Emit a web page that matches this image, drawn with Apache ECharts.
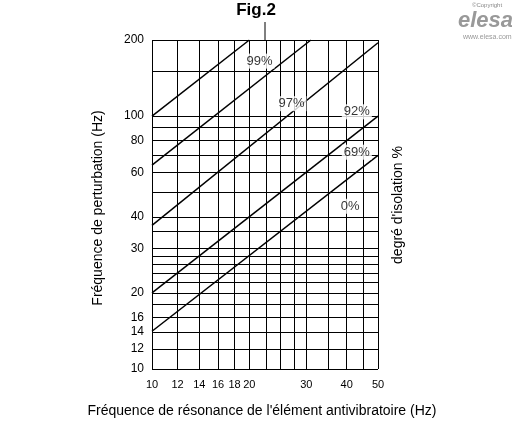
<!DOCTYPE html>
<html><head><meta charset="utf-8">
<script src="https://cdn.jsdelivr.net/npm/echarts@6/dist/echarts.min.js"></script>
<style>html,body{margin:0;background:#fff}#c{width:512px;height:430px}</style>
</head><body><div id="c"></div>
<script>
// grille et étiquettes
const xGrid = [10, 12, 14, 16, 18, 20, 22.5, 25, 27.5, 30, 35, 40, 45, 50];
const xLabels = [10, 12, 14, 16, 18, 20, 30, 40, 50];
const yGrid = [10, 12, 14, 16, 18, 20, 22, 24, 26, 28, 30, 35, 40, 50, 60, 70, 80, 90, 100, 150, 200];
const yLabels = [10, 12, 14, 16, 20, 30, 40, 60, 80, 100, 200];
// courbes d'isolation : [x, y] début et fin
const iso99 = [[10, 100], [20, 200]];
const iso97 = [[10, 64], [31, 200]];
const iso92 = [[10, 37], [50, 195]];
const iso69 = [[10, 20], [50, 100]];
const iso0 = [[10, 14.1], [50, 70]];
const isoLabels = [
  {name: '99%', value: [21.5, 165]},
  {name: '97%', value: [27, 112]},
  {name: '92%', value: [43, 104]},
  {name: '69%', value: [43, 72]},
  {name: '0%', value: [41, 44]}
];

let chart = echarts.init(document.getElementById('c'));
const F = 'Arial, Liberation Sans, sans-serif';
let gridLines = [];
xGrid.forEach(v => gridLines.push({
  xAxis: v,
  label: {show: xLabels.indexOf(v) >= 0, formatter: String(v), position: 'start', distance: 10, fontSize: 11}
}));
yGrid.forEach(v => gridLines.push({
  yAxis: v,
  label: {show: yLabels.indexOf(v) >= 0, formatter: String(v), position: 'start', distance: 8}
}));
function line(d) {
  return {type: 'line', data: d, symbol: 'none', lineStyle: {color: '#000', width: 1.5}, z: 3};
}
chart.setOption({
  animation: false,
  grid: {left: 152, right: 134, top: 40, bottom: 61},
  xAxis: {type: 'log', min: 10, max: 50, axisLabel: {show: false}, axisTick: {show: false},
    splitLine: {show: false}, axisLine: {show: false}},
  yAxis: {type: 'log', min: 10, max: 200, axisLabel: {show: false}, axisTick: {show: false},
    splitLine: {show: false}, axisLine: {show: false}},
  graphic: [
    {type: 'text', left: 'center', top: 2, style: {text: 'Fig.2', font: 'bold 17px ' + F, fill: '#000'}},
    {type: 'text', x: 98, y: 208, rotation: Math.PI / 2, style: {text: 'Fréquence de perturbation (Hz)', font: '14px ' + F, fill: '#000', align: 'center', verticalAlign: 'middle'}},
    {type: 'text', x: 398, y: 205, rotation: Math.PI / 2, style: {text: "degré d'isolation %", font: '14px ' + F, fill: '#000', align: 'center', verticalAlign: 'middle'}},
    {type: 'text', x: 262, y: 411, style: {text: "Fréquence de résonance de l'élément antivibratoire (Hz)", font: '14px ' + F, fill: '#000', align: 'center', verticalAlign: 'middle'}},
    {type: 'line', shape: {x1: 265, y1: 22, x2: 265, y2: 40}, style: {stroke: '#000', lineWidth: 1}},
    {type: 'text', x: 472, y: 2, style: {text: '©Copyright', font: '6px ' + F, fill: '#888'}},
    {type: 'text', x: 458, y: 10, style: {text: 'elesa', font: 'italic bold 22px ' + F, fill: '#999'}},
    {type: 'text', x: 463, y: 34, style: {text: 'www.elesa.com', font: '7px ' + F, fill: '#999'}}
  ],
  series: [
    {type: 'line', data: [], silent: true,
      markLine: {silent: true, symbol: 'none', data: gridLines,
        lineStyle: {color: '#000', width: 1, type: 'solid'},
        label: {color: '#000', fontSize: 12, fontFamily: F}}},
    line(iso99), line(iso97), line(iso92), line(iso69), line(iso0),
    {type: 'scatter', data: isoLabels, symbolSize: 0, z: 5,
      label: {show: true, formatter: '{b}', position: 'inside', color: '#000', fontSize: 13,
        fontFamily: F, backgroundColor: '#fff', padding: [1, 2]}}
  ]
});
</script></body></html>
